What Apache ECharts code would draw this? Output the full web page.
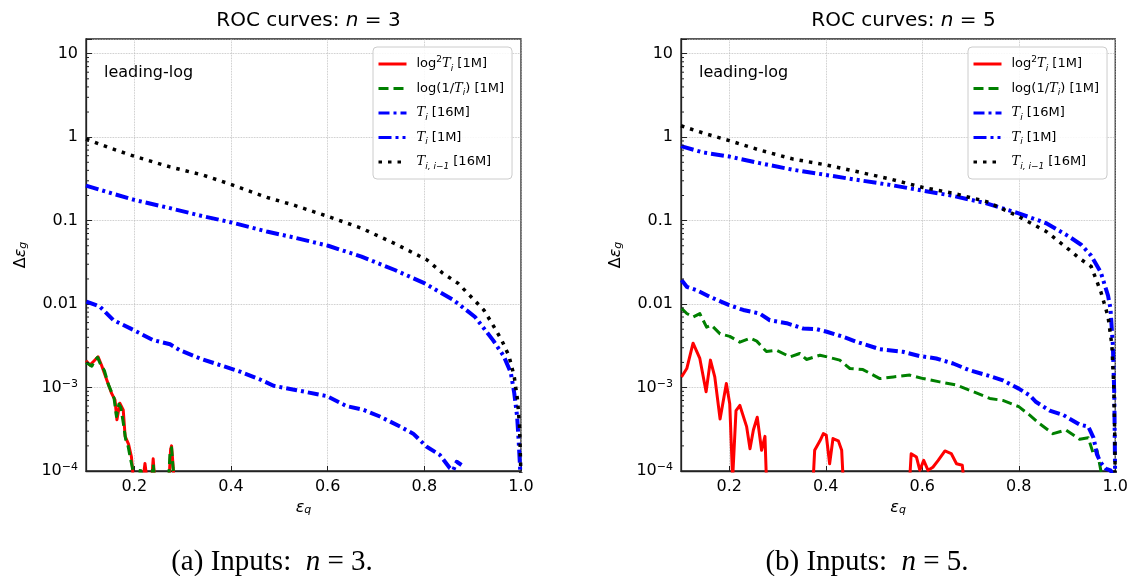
<!DOCTYPE html>
<html>
<head>
<meta charset="utf-8">
<script src="https://cdn.jsdelivr.net/npm/echarts@6/dist/echarts.min.js"></script>
<style>
  html, body { margin: 0; padding: 0; background: #fff; }
  #chart { width: 1131px; height: 576px; }
</style>
</head>
<body>
<div id="chart"></div>
<script>
// ---- data (x = eps_q, y = delta eps_g) ----
const yDecades = [1e-4, 1e-3, 0.01, 0.1, 1, 10];
const yDecadeText = ['{b|10}{p|\u22124}', '{b|10}{p|\u22123}', '0.01', '0.1', '1', '10'];
const yMinor = [2e-4,3e-4,4e-4,5e-4,6e-4,7e-4,8e-4,9e-4,
                2e-3,3e-3,4e-3,5e-3,6e-3,7e-3,8e-3,9e-3,
                0.02,0.03,0.04,0.05,0.06,0.07,0.08,0.09,
                0.2,0.3,0.4,0.5,0.6,0.7,0.8,0.9,
                2,3,4,5,6,7,8,9];

// n = 3
const n3RedX   = [0.100,0.108,0.115,0.125,0.132,0.143,0.153,0.160,0.164,0.170,0.177,0.181,0.188,0.194,0.198,0.205,0.218,0.222,0.226,0.230,0.236,0.239,0.242,0.250,0.272,0.275,0.277,0.280,0.282];
const n3RedY   = [0.0021,0.00186,0.00204,0.00234,0.00186,0.00123,0.00085,0.00071,0.00041,0.00065,0.00054,0.00026,0.00021,0.000148,0.00008,null,0.00008,0.000123,0.00008,null,0.00008,0.00014,0.00008,null,0.00008,0.00018,0.0002,0.00012,0.00008];
const n3GreenX = [0.100,0.106,0.112,0.118,0.124,0.130,0.138,0.146,0.153,0.158,0.163,0.168,0.172,0.178,0.182,0.187,0.192,0.196,0.200,0.205,0.210,0.213,0.216,0.220,0.236,0.239,0.242,0.250,0.271,0.274,0.277,0.280,0.283];
const n3GreenY = [0.0020,0.0019,0.0018,0.0021,0.0023,0.0019,0.0016,0.0011,0.00088,0.00075,0.00045,0.00063,0.00058,0.00035,0.00024,0.0002,0.00014,0.00011,0.00008,null,0.00008,0.00011,0.00008,null,0.00008,0.00012,0.00008,null,0.00008,0.00017,0.00019,0.00011,0.00008];
const n3T16X   = [0.101,0.129,0.157,0.198,0.239,0.274,0.294,0.336,0.377,0.419,0.460,0.488,0.536,0.598,0.639,0.674,0.708,0.750,0.777,0.805,0.832,0.853,0.860,0.867,0.877];
const n3T16Y   = [0.0107,0.0093,0.0064,0.0049,0.0037,0.0033,0.0028,0.00223,0.00186,0.00155,0.00125,0.00105,0.00093,0.00079,0.0006,0.00054,0.00045,0.00034,0.00028,0.000195,0.000156,0.000108,0.000103,0.000129,0.000118];
const n3T1X    = [0.100,0.157,0.200,0.274,0.336,0.401,0.474,0.529,0.601,0.670,0.739,0.801,0.860,0.905,0.942,0.964,0.979,0.986,0.992,0.995,0.998,1.000];
const n3T1Y    = [0.263,0.209,0.177,0.141,0.115,0.095,0.074,0.063,0.050,0.037,0.0256,0.0177,0.0112,0.0070,0.0037,0.0024,0.0015,0.00086,0.00045,0.00024,0.000113,0.00006];
const n3TiiX   = [0.100,0.150,0.200,0.274,0.343,0.401,0.474,0.529,0.601,0.670,0.739,0.805,0.838,0.870,0.923,0.942,0.960,0.975,0.986,0.993,0.997,0.999,1.000];
const n3TiiY   = [0.95,0.74,0.59,0.44,0.35,0.27,0.19,0.154,0.112,0.081,0.053,0.034,0.0235,0.0177,0.0085,0.0056,0.0037,0.0024,0.00135,0.0007,0.00034,0.000135,0.00007];

// n = 5
const n5RedX   = [0.101,0.112,0.125,0.139,0.152,0.161,0.170,0.181,0.194,0.201,0.207,0.214,0.222,0.236,0.243,0.250,0.258,0.267,0.274,0.277,0.300,0.374,0.377,0.388,0.395,0.401,0.408,0.415,0.426,0.433,0.436,0.500,0.574,0.577,0.588,0.595,0.603,0.612,0.622,0.633,0.647,0.660,0.671,0.683,0.686];
const n5RedY   = [0.00134,0.00169,0.0034,0.00223,0.00089,0.00213,0.00134,0.00042,0.00112,0.00064,0.00008,0.00053,0.00061,0.00034,0.000185,0.00031,0.00044,0.000177,0.00026,0.00008,null,0.00008,0.000177,0.00023,0.00028,0.00027,0.000122,0.000245,0.00023,0.000177,0.00008,null,0.00008,0.000161,0.000147,0.000102,0.000134,0.000102,0.000111,0.000134,0.000174,0.000162,0.000122,0.000117,0.00008];
const n5GreenX = [0.101,0.112,0.125,0.139,0.153,0.163,0.181,0.201,0.222,0.243,0.257,0.277,0.298,0.326,0.346,0.360,0.388,0.408,0.429,0.450,0.477,0.512,0.540,0.574,0.602,0.636,0.671,0.698,0.740,0.767,0.800,0.822,0.843,0.871,0.898,0.926,0.944,0.955,0.962,0.970,0.975];
const n5GreenY = [0.0089,0.0077,0.0070,0.0077,0.0053,0.0056,0.0044,0.0041,0.0035,0.0039,0.0036,0.0027,0.0028,0.00233,0.00256,0.00217,0.00244,0.00229,0.00213,0.00169,0.00164,0.00128,0.00134,0.00141,0.00128,0.00117,0.00107,0.00093,0.00074,0.0007,0.00059,0.00047,0.00037,0.00028,0.00031,0.00024,0.00025,0.000158,0.000178,0.000102,0.00008];
const n5T16X   = [0.101,0.112,0.132,0.160,0.200,0.229,0.263,0.284,0.319,0.353,0.381,0.402,0.436,0.464,0.512,0.560,0.595,0.629,0.664,0.698,0.733,0.767,0.800,0.822,0.836,0.864,0.892,0.926,0.944,0.955,0.962,0.970,0.980,0.990,0.995];
const n5T16Y   = [0.0194,0.0161,0.0147,0.0122,0.0097,0.0085,0.0077,0.0064,0.0059,0.0051,0.0050,0.00466,0.00406,0.00353,0.00288,0.00268,0.00238,0.00223,0.00194,0.00161,0.00141,0.00122,0.00097,0.00081,0.00067,0.00053,0.00047,0.00036,0.00034,0.00025,0.000158,0.000126,0.000107,0.000102,0.00009];
const n5T1X    = [0.100,0.146,0.200,0.263,0.333,0.400,0.464,0.533,0.600,0.664,0.733,0.800,0.857,0.905,0.930,0.950,0.970,0.985,0.990,0.995,0.998,1.000];
const n5T1Y    = [0.78,0.655,0.586,0.488,0.406,0.353,0.308,0.268,0.229,0.198,0.161,0.122,0.093,0.064,0.051,0.038,0.024,0.0126,0.0089,0.0032,0.0008,0.00006];
const n5TiiX   = [0.100,0.146,0.200,0.263,0.333,0.400,0.464,0.533,0.600,0.664,0.733,0.800,0.857,0.905,0.926,0.950,0.970,0.985,0.993,0.997,0.999,1.000];
const n5TiiY   = [1.37,1.12,0.91,0.70,0.545,0.466,0.387,0.316,0.251,0.213,0.169,0.112,0.074,0.0445,0.0353,0.0282,0.0141,0.0071,0.0032,0.001,0.00025,0.00006];

const seriesNames = ['log2T [1M]', 'log(1/T) [1M]', 'T [16M]', 'T [1M]', 'Tii [16M]'];
const legendText = {
  'log2T [1M]':   '{r|log}{sup|2}{it|T}{sub|i}{r| [1M]}',
  'log(1/T) [1M]':'{r|log(1/}{it|T}{sub|i}{r|) [1M]}',
  'T [16M]':      '{it|T}{sub|i}{r| [16M]}',
  'T [1M]':       '{it|T}{sub|i}{r| [1M]}',
  'Tii [16M]':    '{it|T}{sub|i, i\u22121}{r| [16M]}'
};

const FONT = 'DejaVu Sans';
const styles = {
  'log2T [1M]':    { color: '#ff0000', width: 3,   type: 'solid' },
  'log(1/T) [1M]': { color: '#008000', width: 3,   type: [10, 5] },
  'T [16M]':       { color: '#0000ff', width: 4,   type: [11, 4, 3, 4] },
  'T [1M]':        { color: '#0000ff', width: 4,   type: [13, 4, 3, 4, 3, 4] },
  'Tii [16M]':     { color: '#000000', width: 3.5, type: [3.5, 6] }
};

const zip = (xs, ys) => xs.map((x, i) => [x, ys[i]]);

const panels = [
  { n: 3, left: 86, cap: '(a) Inputs:  ', capX: 272,
    data: [zip(n3RedX, n3RedY), zip(n3GreenX, n3GreenY), zip(n3T16X, n3T16Y), zip(n3T1X, n3T1Y), zip(n3TiiX, n3TiiY)] },
  { n: 5, left: 681, cap: '(b) Inputs:  ', capX: 867,
    data: [zip(n5RedX, n5RedY), zip(n5GreenX, n5GreenY), zip(n5T16X, n5T16Y), zip(n5T1X, n5T1Y), zip(n5TiiX, n5TiiY)] }
];
const gridW = 435, gridTop = 39, gridH = 432;

function fmtY(v) {
  for (let i = 0; i < yDecades.length; i++) {
    if (Math.abs(Math.log10(v) - Math.log10(yDecades[i])) < 1e-6) return yDecadeText[i];
  }
  return '';
}

const option = {
  animation: false,
  backgroundColor: '#fff',
  title: [], grid: [], xAxis: [], yAxis: [], legend: [], series: [], graphic: []
};

panels.forEach((p, k) => {
  option.title.push({
    text: '{a|ROC curves: }{i|n}{a| = ' + p.n + '}',
    left: p.left + gridW / 2, top: 6, textAlign: 'center',
    textStyle: { fontWeight: 'normal', rich: {
      a: { fontFamily: FONT, fontSize: 20, fontWeight: 'normal', color: '#000' },
      i: { fontFamily: FONT, fontSize: 20, fontWeight: 'normal', fontStyle: 'italic', color: '#000' }
    } }
  });
  option.grid.push({
    left: p.left, top: gridTop, width: gridW, height: gridH,
    show: true, borderColor: '#222', borderWidth: 1.3, backgroundColor: 'transparent'
  });
  option.xAxis.push({
    type: 'value', gridIndex: k, min: 0.1, max: 1.0, splitNumber: 5,
    name: '{e|\u03b5}{s|q}', nameLocation: 'middle', nameGap: 26,
    nameTextStyle: { rich: {
      e: { fontFamily: FONT, fontSize: 16, fontStyle: 'italic', color: '#000' },
      s: { fontFamily: FONT, fontSize: 11, fontStyle: 'italic', color: '#000', verticalAlign: 'bottom', lineHeight: 10 }
    } },
    axisLine: { show: true, lineStyle: { color: '#222', width: 1.3 } },
    axisTick: { show: true, inside: true, length: 5, lineStyle: { color: '#222' } },
    axisLabel: { showMinLabel: false, fontFamily: FONT, fontSize: 16, color: '#000', margin: 8,
                 formatter: v => v.toFixed(1) },
    splitLine: { show: true, lineStyle: { color: '#b8b8b8', type: 'dotted', width: 0.8 } }
  });
  option.yAxis.push({
    type: 'log', gridIndex: k, min: 1e-4, max: 15, logBase: 10,
    name: '{d|\u0394}{e|\u03b5}{s|g}', nameLocation: 'middle', nameGap: 57, nameRotate: 90,
    nameTextStyle: { rich: {
      d: { fontFamily: FONT, fontSize: 16, color: '#000' },
      e: { fontFamily: FONT, fontSize: 16, fontStyle: 'italic', color: '#000' },
      s: { fontFamily: FONT, fontSize: 11, fontStyle: 'italic', color: '#000', verticalAlign: 'bottom', lineHeight: 10 }
    } },
    axisLine: { show: true, lineStyle: { color: '#222', width: 1.3 } },
    axisTick: { show: true, inside: true, length: 6, lineStyle: { color: '#222' } },
    axisLabel: { fontFamily: FONT, fontSize: 16, color: '#000', margin: 8, formatter: fmtY,
      rich: {
        b: { fontFamily: FONT, fontSize: 16, color: '#000', lineHeight: 18 },
        p: { fontFamily: FONT, fontSize: 11, color: '#000', verticalAlign: 'top', lineHeight: 10 }
      } },
    splitLine: { show: true, lineStyle: { color: '#b8b8b8', type: 'dotted', width: 0.8 } }
  });
  option.legend.push({
    data: seriesNames, left: p.left + 287, top: 47, orient: 'vertical',
    itemWidth: 28, itemHeight: 13, itemGap: 9, padding: [8, 8, 8, 4],
    backgroundColor: 'rgba(255,255,255,0.85)', borderColor: '#cccccc', borderWidth: 1, borderRadius: 4,
    selectedMode: false,
    itemStyle: { opacity: 0 },
    lineStyle: { width: 3 },
    formatter: name => legendText[name],
    textStyle: { padding: [0, 0, 0, 5], rich: {
      r: { fontFamily: FONT, fontSize: 13, color: '#000', lineHeight: 18 },
      it: { fontFamily: 'DejaVu Serif', fontSize: 13, fontStyle: 'italic', color: '#000', lineHeight: 18 },
      sup: { fontFamily: FONT, fontSize: 9, color: '#000', verticalAlign: 'top', lineHeight: 10 },
      sub: { fontFamily: FONT, fontSize: 9, fontStyle: 'italic', color: '#000', verticalAlign: 'bottom', lineHeight: 9 }
    } }
  });
  seriesNames.forEach((name, j) => {
    const s = styles[name];
    option.series.push({
      name: name, type: 'line', xAxisIndex: k, yAxisIndex: k,
      data: p.data[j], showSymbol: false, symbol: 'none', clip: true, connectNulls: false,
      lineStyle: { color: s.color, width: s.width, type: s.type, cap: 'butt', join: 'round' },
      itemStyle: { color: s.color }, z: 2 + j
    });
  });
  // minor ticks on the log axis (2..9 x 10^k), inside the left spine
  option.series.push({
    type: 'custom', xAxisIndex: k, yAxisIndex: k, silent: true, clip: false, z: 10,
    data: yMinor.map(v => [0.1, v]),
    renderItem: (params, api) => {
      const c = api.coord([api.value(0), api.value(1)]);
      return { type: 'line', shape: { x1: c[0], y1: c[1], x2: c[0] + 3, y2: c[1] },
               style: { stroke: '#222', lineWidth: 1 } };
    }
  });
  option.graphic.push({
    type: 'text', x: p.left + 18, y: 73,
    style: { text: 'leading-log', font: '16px "DejaVu Sans"', fill: '#000', verticalAlign: 'middle' }
  });
  option.graphic.push({
    type: 'text', x: p.capX, y: 562,
    style: { text: '{a|' + p.cap + '}{i|n}{a| = ' + p.n + '.}', align: 'center', verticalAlign: 'middle',
      rich: {
        a: { fontFamily: 'Liberation Serif', fontSize: 29, fill: '#000' },
        i: { fontFamily: 'Liberation Serif', fontSize: 29, fontStyle: 'italic', fill: '#000' }
      } }
  });
});

const chart = echarts.init(document.getElementById('chart'));
chart.setOption(option);
</script>
</body>
</html>
